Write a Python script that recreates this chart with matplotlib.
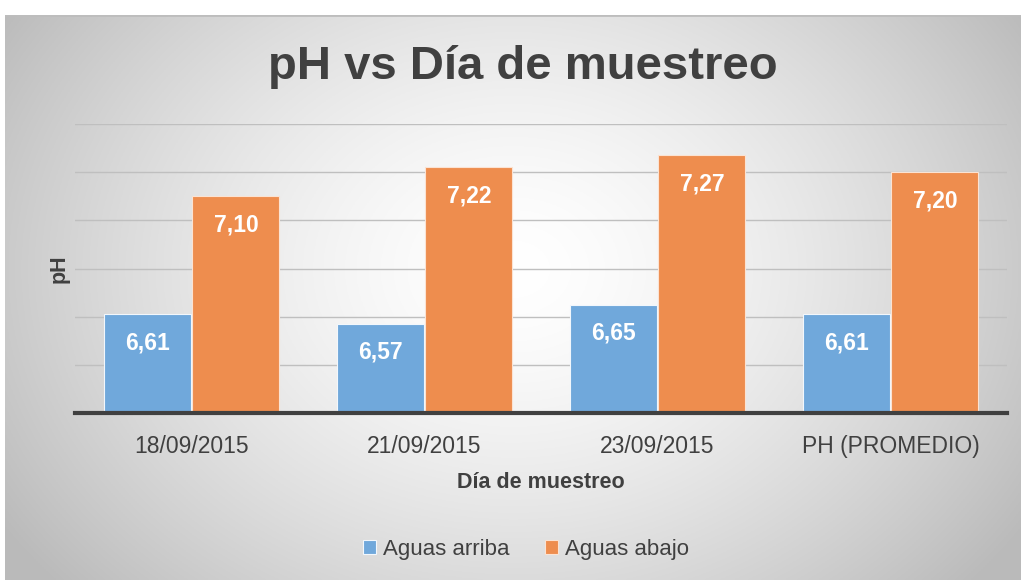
import matplotlib.pyplot as plt
import numpy as np

# chart data
categorias = ['18/09/2015', '21/09/2015', '23/09/2015', 'PH (PROMEDIO)']
aguas_arriba = [6.61, 6.57, 6.65, 6.61]
aguas_abajo = [7.10, 7.22, 7.27, 7.20]
series = ['Aguas arriba', 'Aguas abajo']

azul = '#70A8DB'
naranja = '#EE8D4E'
gris_texto = '#404040'

plt.rcParams['font.family'] = ['Liberation Sans', 'DejaVu Sans']

fig = plt.figure(figsize=(10.21, 5.8), dpi=100)

# radial gray gradient behind the chart
bg = fig.add_axes([5 / 1021, 0, 1 - 5 / 1021, 565 / 580])
yy, xx = np.mgrid[0:1:300j, 0:1:500j]
r = np.sqrt(((xx - 0.5) / 0.6) ** 2 + ((yy - 0.45) / 0.85) ** 2)
shade = 1 - 0.27 * np.clip(r, 0, 1) ** 1.5
bg.imshow(np.dstack([shade] * 3), extent=[0, 1, 0, 1], aspect='auto', origin='upper')
bg.set_xlim(0, 1)
bg.set_ylim(0, 1)
bg.axhline(1, color='#BDBDBD', lw=2)
bg.axis('off')

ax = fig.add_axes([75 / 1021, 1 - 413 / 580, 932 / 1021, 289 / 580])
ax.patch.set_alpha(0)

x = np.arange(len(categorias))
w = 0.373
b1 = ax.bar(x - w / 2 - 0.004, np.array(aguas_arriba) - 6.2, w, bottom=6.2, color=azul,
            edgecolor='#F2F7FC', linewidth=0.8, label=series[0], zorder=3)
b2 = ax.bar(x + w / 2 + 0.004, np.array(aguas_abajo) - 6.2, w, bottom=6.2, color=naranja,
            edgecolor='#FBE3D3', linewidth=0.8, label=series[1], zorder=3)

for barras, vals in [(b1, aguas_arriba), (b2, aguas_abajo)]:
    for rect, v in zip(barras, vals):
        ax.text(rect.get_x() + rect.get_width() / 2, v - 0.118, f'{v:.2f}'.replace('.', ','),
                ha='center', va='center', color='white', fontsize=16.5, fontweight='bold', zorder=4)

ax.set_xlim(-0.5, 3.5)
ax.set_ylim(6.2, 7.4)
ax.set_yticks(np.arange(6.2, 7.41, 0.2))
ax.yaxis.grid(True, color='#BFBFBF', lw=1)
ax.set_axisbelow(True)
ax.tick_params(axis='y', length=0, labelleft=False)
ax.tick_params(axis='x', length=0, pad=16, labelsize=16.5, labelcolor=gris_texto)
ax.set_xticks(x)
ax.set_xticklabels(categorias)
for s in ['top', 'right', 'left']:
    ax.spines[s].set_visible(False)
ax.spines['bottom'].set_color('#404040')
ax.spines['bottom'].set_linewidth(3)
ax.spines['bottom'].set_zorder(5)

ax.set_xlabel('Día de muestreo', fontsize=15.5, fontweight='bold', color=gris_texto, labelpad=10)
ax.set_ylabel('pH', fontsize=15.5, fontweight='bold', color=gris_texto, labelpad=4)

fig.text(0.512, 1 - 67 / 580, 'pH vs Día de muestreo', ha='center', va='center',
         fontsize=34, fontweight='bold', color=gris_texto)

fig.legend(handles=[b1, b2], labels=series, loc='center', bbox_to_anchor=(0.515, 1 - 549 / 580),
           ncol=2, frameon=False, fontsize=16, handlelength=0.6, handleheight=0.6,
           handletextpad=0.3, columnspacing=1.6, labelcolor=gris_texto)

fig.savefig('out.png', dpi=100)
